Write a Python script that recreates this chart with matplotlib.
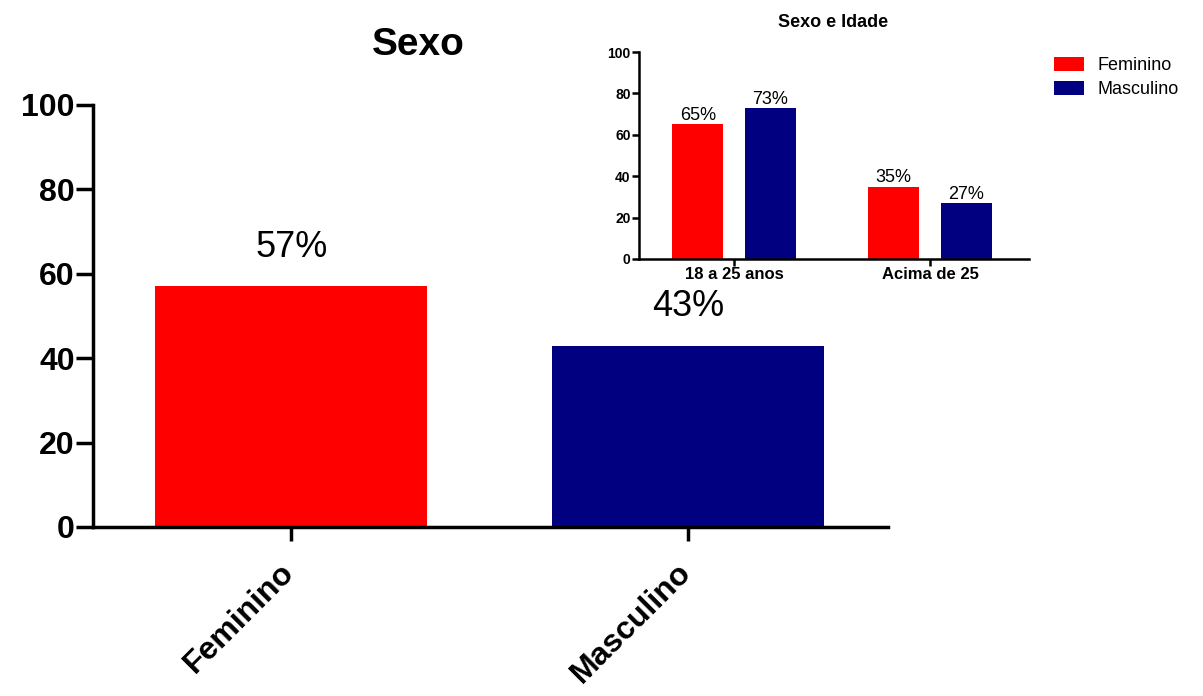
import matplotlib
matplotlib.use("Agg")
import matplotlib.pyplot as plt
from matplotlib.transforms import ScaledTranslation
import numpy as np

plt.rcParams['font.family'] = ['Liberation Sans', 'DejaVu Sans']

# Main chart data
sexo_cats = ["Feminino", "Masculino"]
sexo_vals = [57, 43]
sexo_labels = ["57%", "43%"]

# Inset chart data
idade_cats = ["18 a 25 anos", "Acima de 25"]
fem_vals = [65, 35]
masc_vals = [73, 27]
fem_labels = ["65%", "35%"]
masc_labels = ["73%", "27%"]

RED = "#FF0000"
NAVY = "#000080"

fig = plt.figure(figsize=(12.03, 6.96), dpi=100)

# ---------- Main axes ----------
ax = fig.add_axes([93/1203, 1-527/696, (888-93)/1203, (527-105)/696])
x = np.arange(len(sexo_cats))
ax.bar(x, sexo_vals, width=0.685, color=[RED, NAVY])
for xi, v, lab in zip(x, sexo_vals, sexo_labels):
    ax.text(xi, v + 7, lab, ha='center', va='baseline', fontsize=26)
ax.set_xlim(-0.5, 1.505)
ax.set_ylim(0, 100)
ax.set_yticks([0, 20, 40, 60, 80, 100])
ax.set_xticks(x)
for s in ['top', 'right']:
    ax.spines[s].set_visible(False)
for s in ['left', 'bottom']:
    ax.spines[s].set_linewidth(2.5)
ax.tick_params(axis='y', length=12, width=2.5, pad=1)
ax.tick_params(axis='x', length=10, width=2.5, pad=12)
ax.set_xticklabels(sexo_cats, rotation=45, ha='right', rotation_mode='anchor',
                   fontsize=23, fontweight='bold')
shift = ScaledTranslation(-12/100, 0, fig.dpi_scale_trans)
for lbl in ax.get_xticklabels():
    lbl.set_transform(lbl.get_transform() + shift)
for lbl in ax.get_yticklabels():
    lbl.set_fontsize(23)
    lbl.set_fontweight('bold')

fig.text(418/1203, 1-55/696, "Sexo", ha='center', va='baseline',
         fontsize=28, fontweight='bold')

# ---------- Inset axes ----------
ax2 = fig.add_axes([639/1203, 1-259/696, (1029-639)/1203, (259-52)/696])
xi2 = np.arange(len(idade_cats))
off = 0.185
w = 0.26
b1 = ax2.bar(xi2 - off, fem_vals, width=w, color=RED, label="Feminino")
b2 = ax2.bar(xi2 + off, masc_vals, width=w, color=NAVY, label="Masculino")
for xx, v, lab in zip(xi2 - off, fem_vals, fem_labels):
    ax2.text(xx, v + 2, lab, ha='center', va='baseline', fontsize=13)
for xx, v, lab in zip(xi2 + off, masc_vals, masc_labels):
    ax2.text(xx, v + 2, lab, ha='center', va='baseline', fontsize=13)
ax2.set_xlim(-0.485, 1.505)
ax2.set_ylim(0, 100)
ax2.set_yticks([0, 20, 40, 60, 80, 100])
ax2.set_xticks(xi2)
ax2.set_xticklabels(idade_cats, fontsize=12, fontweight='bold')
for lbl in ax2.get_yticklabels():
    lbl.set_fontsize(10)
    lbl.set_fontweight('bold')
for s in ['top', 'right']:
    ax2.spines[s].set_visible(False)
for s in ['left', 'bottom']:
    ax2.spines[s].set_linewidth(1.8)
ax2.tick_params(axis='both', length=5, width=1.8, pad=1)

fig.text(833/1203, 1-27/696, "Sexo e Idade", ha='center', va='baseline',
         fontsize=13, fontweight='bold')

fig.legend(handles=[b1, b2], labels=["Feminino", "Masculino"],
           loc='upper left', bbox_to_anchor=(1054/1203, 1-57/696),
           frameon=False, fontsize=13, handlelength=1.65, handleheight=0.8,
           handletextpad=0.75, labelspacing=0.38, borderpad=0, borderaxespad=0)

fig.savefig("out.png", dpi=100, facecolor='white')
